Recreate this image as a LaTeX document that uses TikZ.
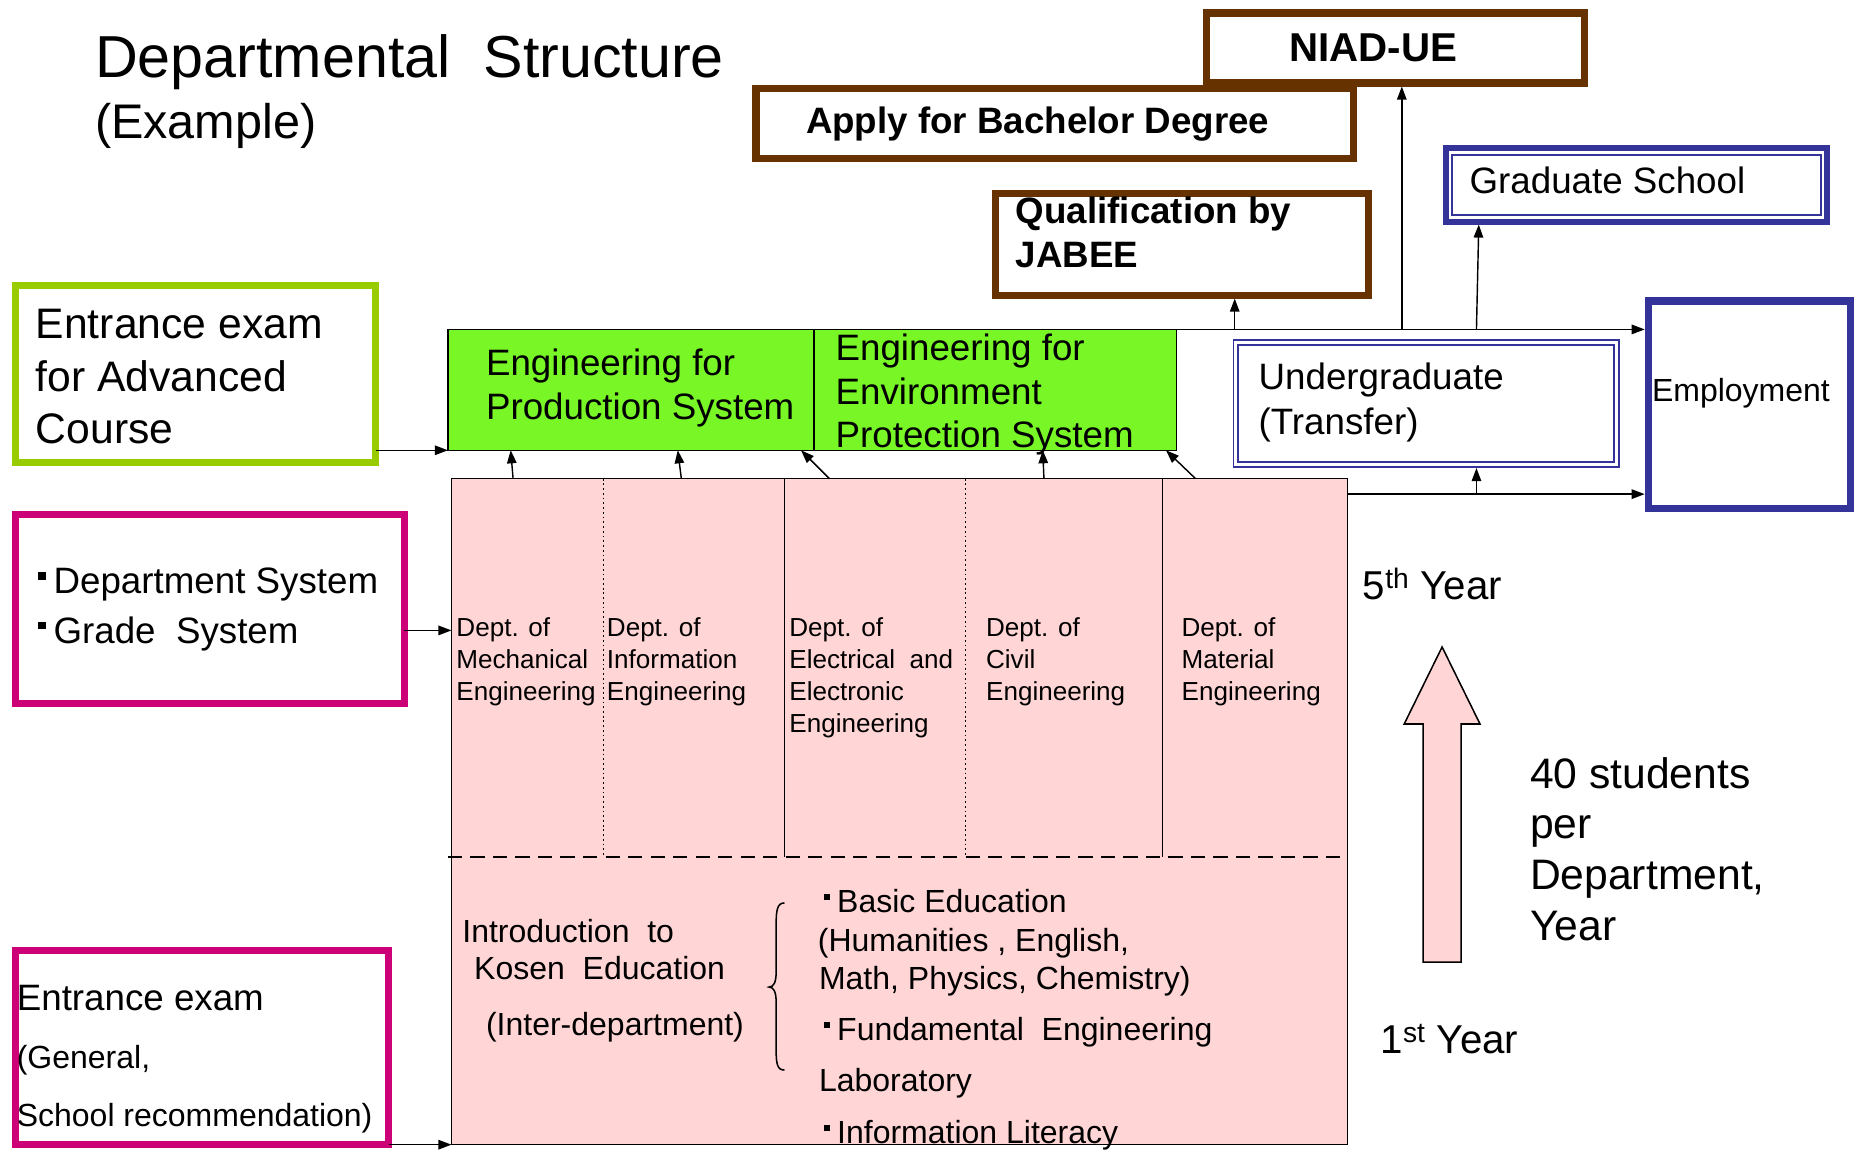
\documentclass[tikz,border=0pt]{standalone}
\usepackage{fontspec}
\setmainfont{Liberation Sans}
\usetikzlibrary{arrows.meta}
\definecolor{kbrown}{RGB}{102,51,0}
\definecolor{knavy}{RGB}{51,51,153}
\definecolor{klime}{RGB}{153,204,0}
\definecolor{kmag}{RGB}{204,0,119}
\definecolor{kgreen}{RGB}{120,246,38}
\definecolor{kpink}{RGB}{255,213,213}
\newcommand\fsz[2]{\fontsize{#1}{#2}\selectfont}
\newcommand\sqbul{\rule[0.38em]{0.2em}{0.2em}\hspace{0.22em}}
\tikzset{
  box/.style={inner sep=0pt, outer sep=0pt, anchor=north west},
  brownbox/.style={box, draw=kbrown, line width=6pt, fill=white},
  navybox/.style={box, draw=knavy, line width=6pt, fill=white},
  limebox/.style={box, draw=klime, line width=6pt, fill=white},
  magbox/.style={box, draw=kmag, line width=6pt, fill=white},
  greenbox/.style={box, draw=black, line width=1pt, fill=kgreen},
  pinkbox/.style={box, draw=black, line width=1.2pt, fill=kpink},
  kdot/.style={dash pattern=on 1.5pt off 2.5pt},
  txt/.style={inner sep=0pt, anchor=base west},
  dtxt/.style={txt, font=\fsz{22}{27}},
  arr/.style={-{Triangle[length=11pt,width=8pt]}, line width=1.2pt},
}
\begin{document}
\begin{tikzpicture}[x=1pt,y=-1pt]
\useasboundingbox (0,0) rectangle (1568,970);
% title
\node[txt, font=\fsz{50}{58}] (title) at (80,65) {Departmental\ \ Structure};
\node[txt, font=\fsz{41}{50}] (example) at (80,117) {(Example)};
% brown boxes
\node[brownbox, minimum width=319pt, minimum height=59pt] (niad) at (1018,11) {};
\node[brownbox, minimum width=504pt, minimum height=59pt] (bachelor) at (638,75) {};
\node[brownbox, minimum width=315pt, minimum height=86pt] (jabee) at (840,163) {};
\node[txt, font=\bfseries\fsz{34}{40}] (niadt) at (1088,52) {NIAD-UE};
\node[txt, font=\bfseries\fsz{31}{37}] (bachelort) at (680,113) {Apply for Bachelor Degree};
\node[txt, font=\bfseries\fsz{31}{37}] (jabeet1) at (857,189) {Qualification by};
\node[txt, font=\bfseries\fsz{31}{37}] (jabeet2) at (857,226) {JABEE};
% graduate school
\node[navybox, line width=5pt, minimum width=322pt, minimum height=62pt] (grad) at (1220,125) {};
\draw[knavy, line width=1.5pt] ([shift={(5.5,5.5)}]grad.north west) rectangle ([shift={(-5.5,-5.5)}]grad.south east);
\node[txt, font=\fsz{31}{37}] (gradt) at (1240,163) {Graduate School};
% entrance exam for advanced course
\node[limebox, minimum width=304pt, minimum height=149pt] (adv) at (13,241) {};
\foreach \t [count=\i] in {Entrance exam, for Advanced, Course}
  \node[txt, font=\fsz{36}{44}] (advt\i) at (30,{242+44*\i}) {\t};
% advanced course
\node[greenbox, minimum width=309pt, minimum height=102pt] (prodsys) at (378,278) {};
\node[greenbox, minimum width=306pt, minimum height=102pt] (envsys) at (687,278) {};
\foreach \t [count=\i] in {Engineering for, Production System}
  \node[txt, font=\fsz{31}{37}] (prodt\i) at (410,{280+37*\i}) {\t};
\foreach \t [count=\i] in {Engineering for, Environment, Protection System}
  \node[txt, font=\fsz{31}{37}] (envt\i) at (705,{267+37*\i}) {\t};
% undergraduate
\node[box, draw=knavy, double=white, double distance=2.5pt, line width=1.5pt, minimum width=321pt, minimum height=103pt] (under) at (1043,289) {};
\node[txt, font=\fsz{31}{37}] (undert1) at (1062,329) {Undergraduate};
\node[txt, font=\fsz{31}{37}] (undert2) at (1062,367) {(Transfer)};
% employment
\node[navybox, minimum width=171pt, minimum height=175pt] (employ) at (1391,254) {};
\node[txt, font=\fsz{27}{32}] (employt) at (1394,339) {Employment};
% department system
\node[magbox, minimum width=328pt, minimum height=160pt] (deptsys) at (13,434) {};
\node[txt, font=\fsz{31}{37}] (deptsyst1) at (32,501) {\sqbul Department System};
\node[txt, font=\fsz{31}{37}] (deptsyst2) at (32,543) {\sqbul Grade\ \ System};
% entrance exam
\node[magbox, minimum width=315pt, minimum height=164pt] (general) at (13,802) {};
\node[txt, font=\fsz{31}{37}] (generalt1) at (14,853) {Entrance exam};
\node[txt, font=\fsz{27}{32}] (generalt2) at (14,902) {(General,};
\node[txt, font=\fsz{27}{32}] (generalt3) at (14,951) {School recommendation)};
% kosen
\node[pinkbox, minimum width=756pt, minimum height=562pt] (pink) at (381,404) {};
\draw[line width=1.3pt, dash pattern=on 12pt off 7pt] ([xshift=-3pt]pink.west |- 0,723) -- (pink.east |- 0,723);
\foreach \x/\s in {509/kdot, 662/solid, 815/kdot, 981/solid}
  \draw[line width=1pt, \s] (pink.north -| \x,0) -- (\x,723);
\foreach \t [count=\i] in {Dept. of, Mechanical, Engineering}
  \node[dtxt] (mecht\i) at (385,{510+27*\i}) {\t};
\foreach \t [count=\i] in {Dept. of, Information, Engineering}
  \node[dtxt] (infot\i) at (512,{510+27*\i}) {\t};
\foreach \t [count=\i] in {Dept. of, Electrical\ \ and, Electronic, Engineering}
  \node[dtxt] (elect\i) at (666,{510+27*\i}) {\t};
\foreach \t [count=\i] in {Dept. of, Civil, Engineering}
  \node[dtxt] (civilt\i) at (832,{510+27*\i}) {\t};
\foreach \t [count=\i] in {Dept. of, Material, Engineering}
  \node[dtxt] (matt\i) at (997,{510+27*\i}) {\t};
% common course
\node[txt, font=\fsz{27}{32}] (introt1) at (390,795) {Introduction\ \ to};
\node[txt, font=\fsz{27}{32}] (introt2) at (400,827) {Kosen\ \ Education};
\node[txt, font=\fsz{27}{32}] (introt3) at (410,874) {(Inter-department)};
\draw[line width=1.3pt] (662,762) .. controls (656,762) and (655,768) .. (655,780) -- (655,820)
  .. controls (655,829) and (653,833) .. (649,833) .. controls (653,833) and (655,837) .. (655,846)
  -- (655,886) .. controls (655,898) and (656,903) .. (662,903);
\foreach \x/\y/\t [count=\i] in {695/770/{\sqbul Basic Education}, 690/803/{(Humanities , English,}, 691/835/{Math, Physics, Chemistry)},
  695/878/{\sqbul Fundamental\ \ Engineering}, 691/921/{Laboratory}, 695/965/{\sqbul Information Literacy}}
  \node[txt, font=\fsz{27}{32}] (basict\i) at (\x,\y) {\t};
% years
\node[txt, font=\fsz{34}{40}] (fifth) at (1150,506) {5\textsuperscript{th} Year};
\node[txt, font=\fsz{34}{40}] (first) at (1165,889) {1\textsuperscript{st} Year};
\draw[fill=kpink, line width=1.3pt] (1201,812) -- (1201,611) -- (1185,611) -- (1217,546) -- (1249,611) -- (1233,611) -- (1233,812) -- cycle;
\foreach \t [count=\i] in {40 students, per, {Department,}, Year}
  \node[txt, font=\fsz{36}{43}] (studt\i) at (1291,{622+43*\i}) {\t};
% arrows
\draw[arr] (adv.east |- 0,380) -- (prodsys.south west);
\draw[arr] (deptsys.east |- 0,532) -- (pink.west |- 0,532);
\draw[arr] (general.east |- pink.south) -- (pink.south west);
\foreach \a/\b in {433/431, 575/572, 700/676, 881/880, 1009/984}
  \draw[arr] (pink.north -| \a,0) -- (prodsys.south -| \b,0);
\draw[arr, shorten >=3pt] (envsys.north east) -- (employ.west |- envsys.north east);
\draw[arr, shorten >=3pt] (envsys.north -| 1042,0) -- (jabee.south -| 1042,0);
\draw[arr, shorten >=3pt] (envsys.north -| 1183,0) -- (niad.south -| 1183,0);
\draw[arr, shorten >=2.5pt] (envsys.north -| 1246,0) -- (grad.south -| 1248,0);
\draw[arr, shorten >=3pt] (pink.east |- 0,417) -- (employ.west |- 0,417);
\draw[arr, shorten >=3pt] (1246,417) -- (under.south -| 1246,0);
\end{tikzpicture}
\end{document}
